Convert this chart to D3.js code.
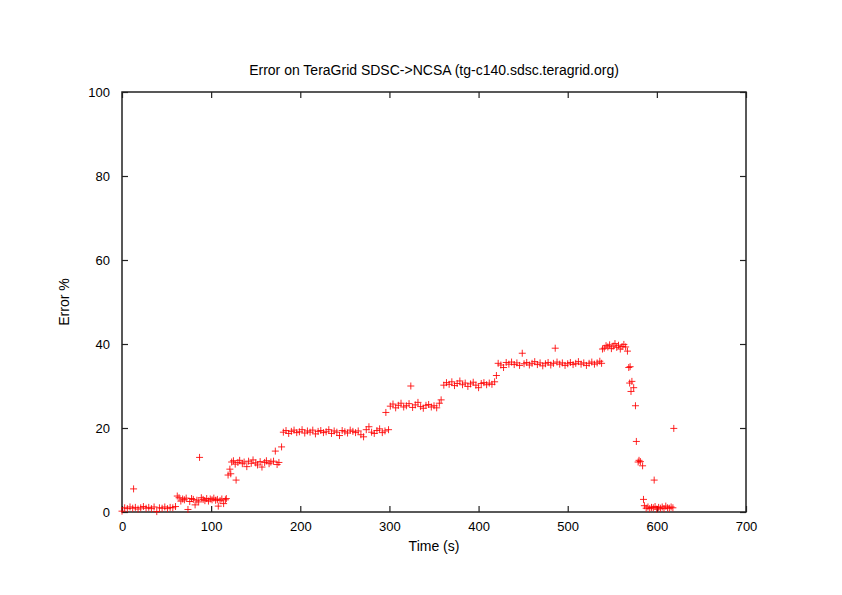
<!DOCTYPE html>
<html>
<head>
<meta charset="utf-8">
<script src="https://cdn.jsdelivr.net/npm/d3@7"></script>
<style>
  body { margin: 0; background: #fff; }
  text { font-family: "Liberation Sans", Arial, sans-serif; font-size: 14px; fill: #000; }
</style>
</head>
<body>
<svg id="chart" width="842" height="595"></svg>
<script>
// measured samples: time (s) and error (%)
const timeSec = [
	// ~1% start
	0, 3, 6, 9, 12, 13, 15, 18, 21, 24, 27, 30, 33, 36, 39, 42, 45, 48, 51, 54, 57, 60,
	// ~3%
	62, 64, 66, 68, 70, 72, 74, 76, 78, 80, 82, 84, 86, 87, 89, 91, 93, 95, 97, 99, 101, 103, 105, 107, 108, 110, 112, 114, 116, 117,
	119, 121, 122, 128,
	// ~12%
	123, 125, 127, 130, 132, 135, 137, 140, 142, 145, 147, 150, 152, 155, 157, 160, 162, 165, 167, 170, 172, 174, 176, 179,
	// ~19%
	181, 184, 187, 190, 193, 196, 199, 202, 205, 208, 211, 214, 217, 220, 223, 226, 229, 232, 235, 238, 241, 244, 247, 250,
	253, 256, 259, 262, 265, 268, 271, 274, 277, 280, 283, 286, 289, 292, 295, 296, 299,
	// ~25%
	301, 304, 307, 310, 313, 316, 319, 322, 324, 326, 329, 332, 335, 338, 341, 344, 347, 350, 353, 356, 358,
	// ~30%
	361, 364, 367, 370, 373, 376, 379, 382, 385, 388, 391, 394, 397, 400, 403, 406, 409, 412, 415, 418, 420,
	// ~35%
	422, 425, 428, 431, 434, 437, 440, 443, 446, 449, 451, 454, 457, 460, 463, 466, 469, 472, 475, 478, 481, 484, 486, 488,
	491, 494, 497, 500, 503, 506, 509, 512, 515, 518, 521, 524, 527, 530, 533, 536, 538,
	// ~39%
	539, 541, 543, 545, 547, 549, 551, 553, 555, 557, 559, 561, 563, 565,
	// drop
	567, 568.5, 570, 569.5, 572, 571, 574, 576, 577, 579, 580, 581.5, 584, 585, 597,
	// ~1% end
	586, 588, 590, 592, 594, 596, 598, 600, 602, 604, 606, 608, 610, 612, 614, 616, 618, 619
];

const errorPct = [
	0.2, 1.0, 0.8, 1.2, 0.9, 5.5, 1.1, 0.7, 1.0, 1.3, 0.9, 1.1, 0.8, 1.2, 0.1, 1.0, 0.9, 1.2, 0.8, 1.1, 1.0, 1.3,
	3.8, 3.4, 2.6, 3.1, 2.9, 3.3, 0.6, 2.5, 3.2, 3.0, 1.7, 2.8, 2.4, 13.0, 3.4, 3.0, 2.7, 3.2, 2.6, 3.1, 2.9, 3.3, 2.8, 3.0, 1.4, 2.7, 3.1, 2.0, 2.9, 3.2,
	8.8, 10.2, 9.1, 7.6,
	11.9, 12.2, 11.4, 11.8, 12.3, 11.5, 11.9, 10.8, 12.1, 11.6, 12.4, 11.7, 11.2, 12.0, 10.7, 11.8, 12.2, 11.5, 11.9, 12.1, 14.5, 11.3, 11.8, 15.5,
	19.0, 19.4, 18.7, 19.2, 19.5, 18.9, 19.1, 19.6, 18.8, 19.3, 19.0, 19.5, 18.6, 19.2, 19.4, 18.9, 19.1, 19.6, 18.7, 19.3, 19.0, 18.2, 19.4, 19.1,
	18.8, 19.5, 19.2, 18.9, 19.3, 18.4, 17.9, 19.6, 20.3, 19.0, 18.7, 19.4, 19.8, 18.9, 19.3, 23.7, 19.6,
	25.2, 25.7, 24.8, 25.4, 25.9, 25.0, 25.3, 25.8, 30.0, 24.9, 25.5, 26.1, 25.1, 24.7, 25.4, 25.6, 25.0, 25.3, 24.8, 25.9, 26.7,
	30.2, 30.8, 30.4, 31.0, 30.1, 30.6, 31.2, 30.3, 30.7, 29.9, 30.5, 30.9, 30.2, 29.6, 30.6, 30.8, 30.3, 30.7, 30.4, 31.0, 32.5,
	35.4, 35.0, 34.4, 35.6, 35.2, 35.7, 35.1, 35.5, 34.9, 37.8, 35.3, 35.6, 35.0, 35.4, 35.8, 35.1, 35.5, 34.8, 35.3, 35.6, 35.0, 35.4, 39.0, 35.7,
	35.2, 35.5, 34.9, 35.3, 35.6, 35.1, 35.4, 35.8, 35.2, 35.5, 34.9, 35.4, 35.7, 35.2, 35.5, 35.9, 35.4,
	38.8, 39.0, 39.6, 39.3, 39.8, 38.9, 39.5, 40.1, 39.2, 39.7, 38.8, 39.4, 39.9, 39.3,
	38.3, 34.4, 34.6, 30.7, 31.1, 28.7, 29.6, 25.3, 16.8, 11.9, 12.3, 12.0, 11.0, 3.0, 7.6,
	1.5, 0.9, 1.2, 0.8, 1.1, 1.0, 1.3, 0.7, 1.1, 0.9, 1.2, 0.8, 1.4, 1.0, 0.9, 1.2, 1.0, 19.9
];

const xTicks = [0, 100, 200, 300, 400, 500, 600, 700];
const yTicks = [0, 20, 40, 60, 80, 100];
const title = "Error on TeraGrid SDSC->NCSA (tg-c140.sdsc.teragrid.org)";

const svg = d3.select("#chart");
const plotLeft = 122, plotRight = 746, plotTop = 92, plotBottom = 512;

const x = d3.scaleLinear().domain([0, 700]).range([plotLeft, plotRight]);
const y = d3.scaleLinear().domain([0, 100]).range([plotBottom, plotTop]);

// tick marks on all four sides, pointing inward
const tickLen = 6;
const axisColor = "#222";

svg.append("g")
	.attr("transform", `translate(0,${plotBottom})`)
	.call(d3.axisBottom(x).tickValues(xTicks).tickSizeInner(-tickLen).tickSizeOuter(0).tickPadding(10))
	.call(g => g.select(".domain").remove());
svg.append("g")
	.attr("transform", `translate(0,${plotTop})`)
	.call(d3.axisTop(x).tickValues(xTicks).tickSizeInner(-tickLen).tickSizeOuter(0).tickFormat(""))
	.call(g => g.select(".domain").remove());
svg.append("g")
	.attr("transform", `translate(${plotLeft},0)`)
	.call(d3.axisLeft(y).tickValues(yTicks).tickSizeInner(-tickLen).tickSizeOuter(0).tickPadding(12))
	.call(g => g.select(".domain").remove());
svg.append("g")
	.attr("transform", `translate(${plotRight},0)`)
	.call(d3.axisRight(y).tickValues(yTicks).tickSizeInner(-tickLen).tickSizeOuter(0).tickFormat(""))
	.call(g => g.select(".domain").remove());

svg.selectAll(".tick line").attr("stroke", axisColor).attr("stroke-width", 1.2);
svg.selectAll(".tick text")
	.style("font-family", '"Liberation Sans", Arial, sans-serif')
	.style("font-size", "13px")
	.attr("fill", "#000");

// border
svg.append("rect")
	.attr("x", plotLeft).attr("y", plotTop)
	.attr("width", plotRight - plotLeft).attr("height", plotBottom - plotTop)
	.attr("fill", "none")
	.attr("stroke", axisColor)
	.attr("stroke-width", 1.5);

// points drawn as "+" markers
const arm = 3.5;
const pts = svg.append("g")
	.attr("stroke", "#ff0000")
	.attr("stroke-width", 1)
	.attr("fill", "none")
	.attr("stroke-opacity", 0.85);

pts.selectAll("path")
	.data(timeSec.map((t, i) => [t, errorPct[i]]))
	.enter()
	.append("path")
	.attr("d", d => {
		const cx = x(d[0]), cy = y(d[1]);
		return `M${cx - arm},${cy}H${cx + arm}M${cx},${cy - arm}V${cy + arm}`;
	});

// title and labels
svg.append("text")
	.attr("x", 434).attr("y", 75)
	.attr("text-anchor", "middle")
	.text(title);

svg.append("text")
	.attr("x", 434).attr("y", 551)
	.attr("text-anchor", "middle")
	.text("Time (s)");

svg.append("text")
	.attr("transform", "translate(69,302) rotate(-90)")
	.attr("text-anchor", "middle")
	.text("Error %");
</script>
</body>
</html>
